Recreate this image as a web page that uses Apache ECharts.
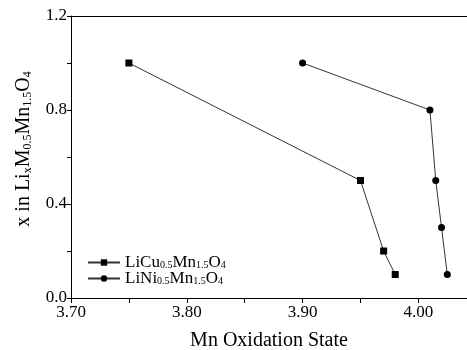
<!DOCTYPE html>
<html>
<head>
<meta charset="UTF-8">
<title>Mn Oxidation State</title>
<script src="https://cdn.jsdelivr.net/npm/echarts@6/dist/echarts.min.js"></script>
</head>
<body style="margin:0">
<div id="main" style="width:467px;height:350px;"></div>
<script>
// LiCu0.5Mn1.5O4
const cuX = [3.75, 3.95, 3.97, 3.98];
const cuY = [1.0, 0.5, 0.2, 0.1];
// LiNi0.5Mn1.5O4
const niX = [3.90, 4.01, 4.015, 4.02, 4.025];
const niY = [1.0, 0.8, 0.5, 0.3, 0.1];

const names = ['LiCu{s|0.5}Mn{s|1.5}O{s|4}', 'LiNi{s|0.5}Mn{s|1.5}O{s|4}'];
const font = '"Liberation Serif", "DejaVu Serif", serif';
const sub = { fontSize: 10, fontFamily: font, color: '#000', padding: [6, 0, 0, 0] };

var chart = echarts.init(document.getElementById('main'), null, { renderer: 'canvas' });

var options = {
  animation: false,
  grid: { left: 71, top: 16, right: 0, bottom: 52, outerBoundsMode: 'none' },
  legend: {
    orient: 'vertical',
    left: 82,
    top: 249,
    itemWidth: 32,
    itemHeight: 8,
    itemGap: -1,
    data: ['cu', 'ni'],
    formatter: function (n) { return n === 'cu' ? names[0] : names[1]; },
    textStyle: {
      fontFamily: font, fontSize: 17, color: '#000',
      rich: { s: sub }
    }
  },
  xAxis: [{
    type: 'value',
    min: 3.70,
    max: 4.042,
    interval: 0.05,
    name: 'Mn Oxidation State',
    nameLocation: 'middle',
    nameGap: 33,
    nameTextStyle: { fontFamily: font, fontSize: 20, color: '#000' },
    axisLine: { lineStyle: { color: '#000', width: 1 } },
    axisTick: { length: 5, lineStyle: { color: '#000' } },
    splitLine: { show: false },
    axisLabel: {
      fontFamily: font, fontSize: 17, color: '#000', margin: 6,
      showMaxLabel: false,
      formatter: function (v) {
        return Math.round(v * 100) % 10 === 0 ? v.toFixed(2) : '';
      }
    }
  }, {
    type: 'value',
    position: 'top',
    min: 3.70,
    max: 4.042,
    axisLine: { show: true, onZero: false, lineStyle: { color: '#000', width: 1 } },
    axisTick: { show: false },
    axisLabel: { show: false },
    splitLine: { show: false }
  }],
  yAxis: {
    type: 'value',
    min: 0,
    max: 1.2,
    interval: 0.2,
    name: 'x in Li{s|x}M{s|0.5}Mn{s|1.5}O{s|4}',
    nameLocation: 'middle',
    nameGap: 37,
    nameTextStyle: {
      fontFamily: font, fontSize: 20, color: '#000',
      padding: [0, 0, 0, 16],
      rich: { s: { fontSize: 12, fontFamily: font, color: '#000', padding: [7, 0, 0, 0] } }
    },
    axisLine: { show: true, lineStyle: { color: '#000', width: 1 } },
    axisTick: { show: true, length: 4, lineStyle: { color: '#000' } },
    splitLine: { show: false },
    axisLabel: {
      fontFamily: font, fontSize: 17, color: '#000', margin: 4,
      formatter: function (v) {
        return Math.round(v * 10) % 4 === 0 ? v.toFixed(1) : '';
      }
    }
  },
  series: [{
    name: 'cu',
    type: 'line',
    data: cuX.map(function (x, i) { return [x, cuY[i]]; }),
    symbol: 'rect',
    symbolSize: 7,
    itemStyle: { color: '#000' },
    lineStyle: { color: '#333', width: 1 }
  }, {
    name: 'ni',
    type: 'line',
    data: niX.map(function (x, i) { return [x, niY[i]]; }),
    symbol: 'circle',
    symbolSize: 7,
    itemStyle: { color: '#000' },
    lineStyle: { color: '#333', width: 1 }
  }]
};
chart.setOption(options);
</script>
</body>
</html>
